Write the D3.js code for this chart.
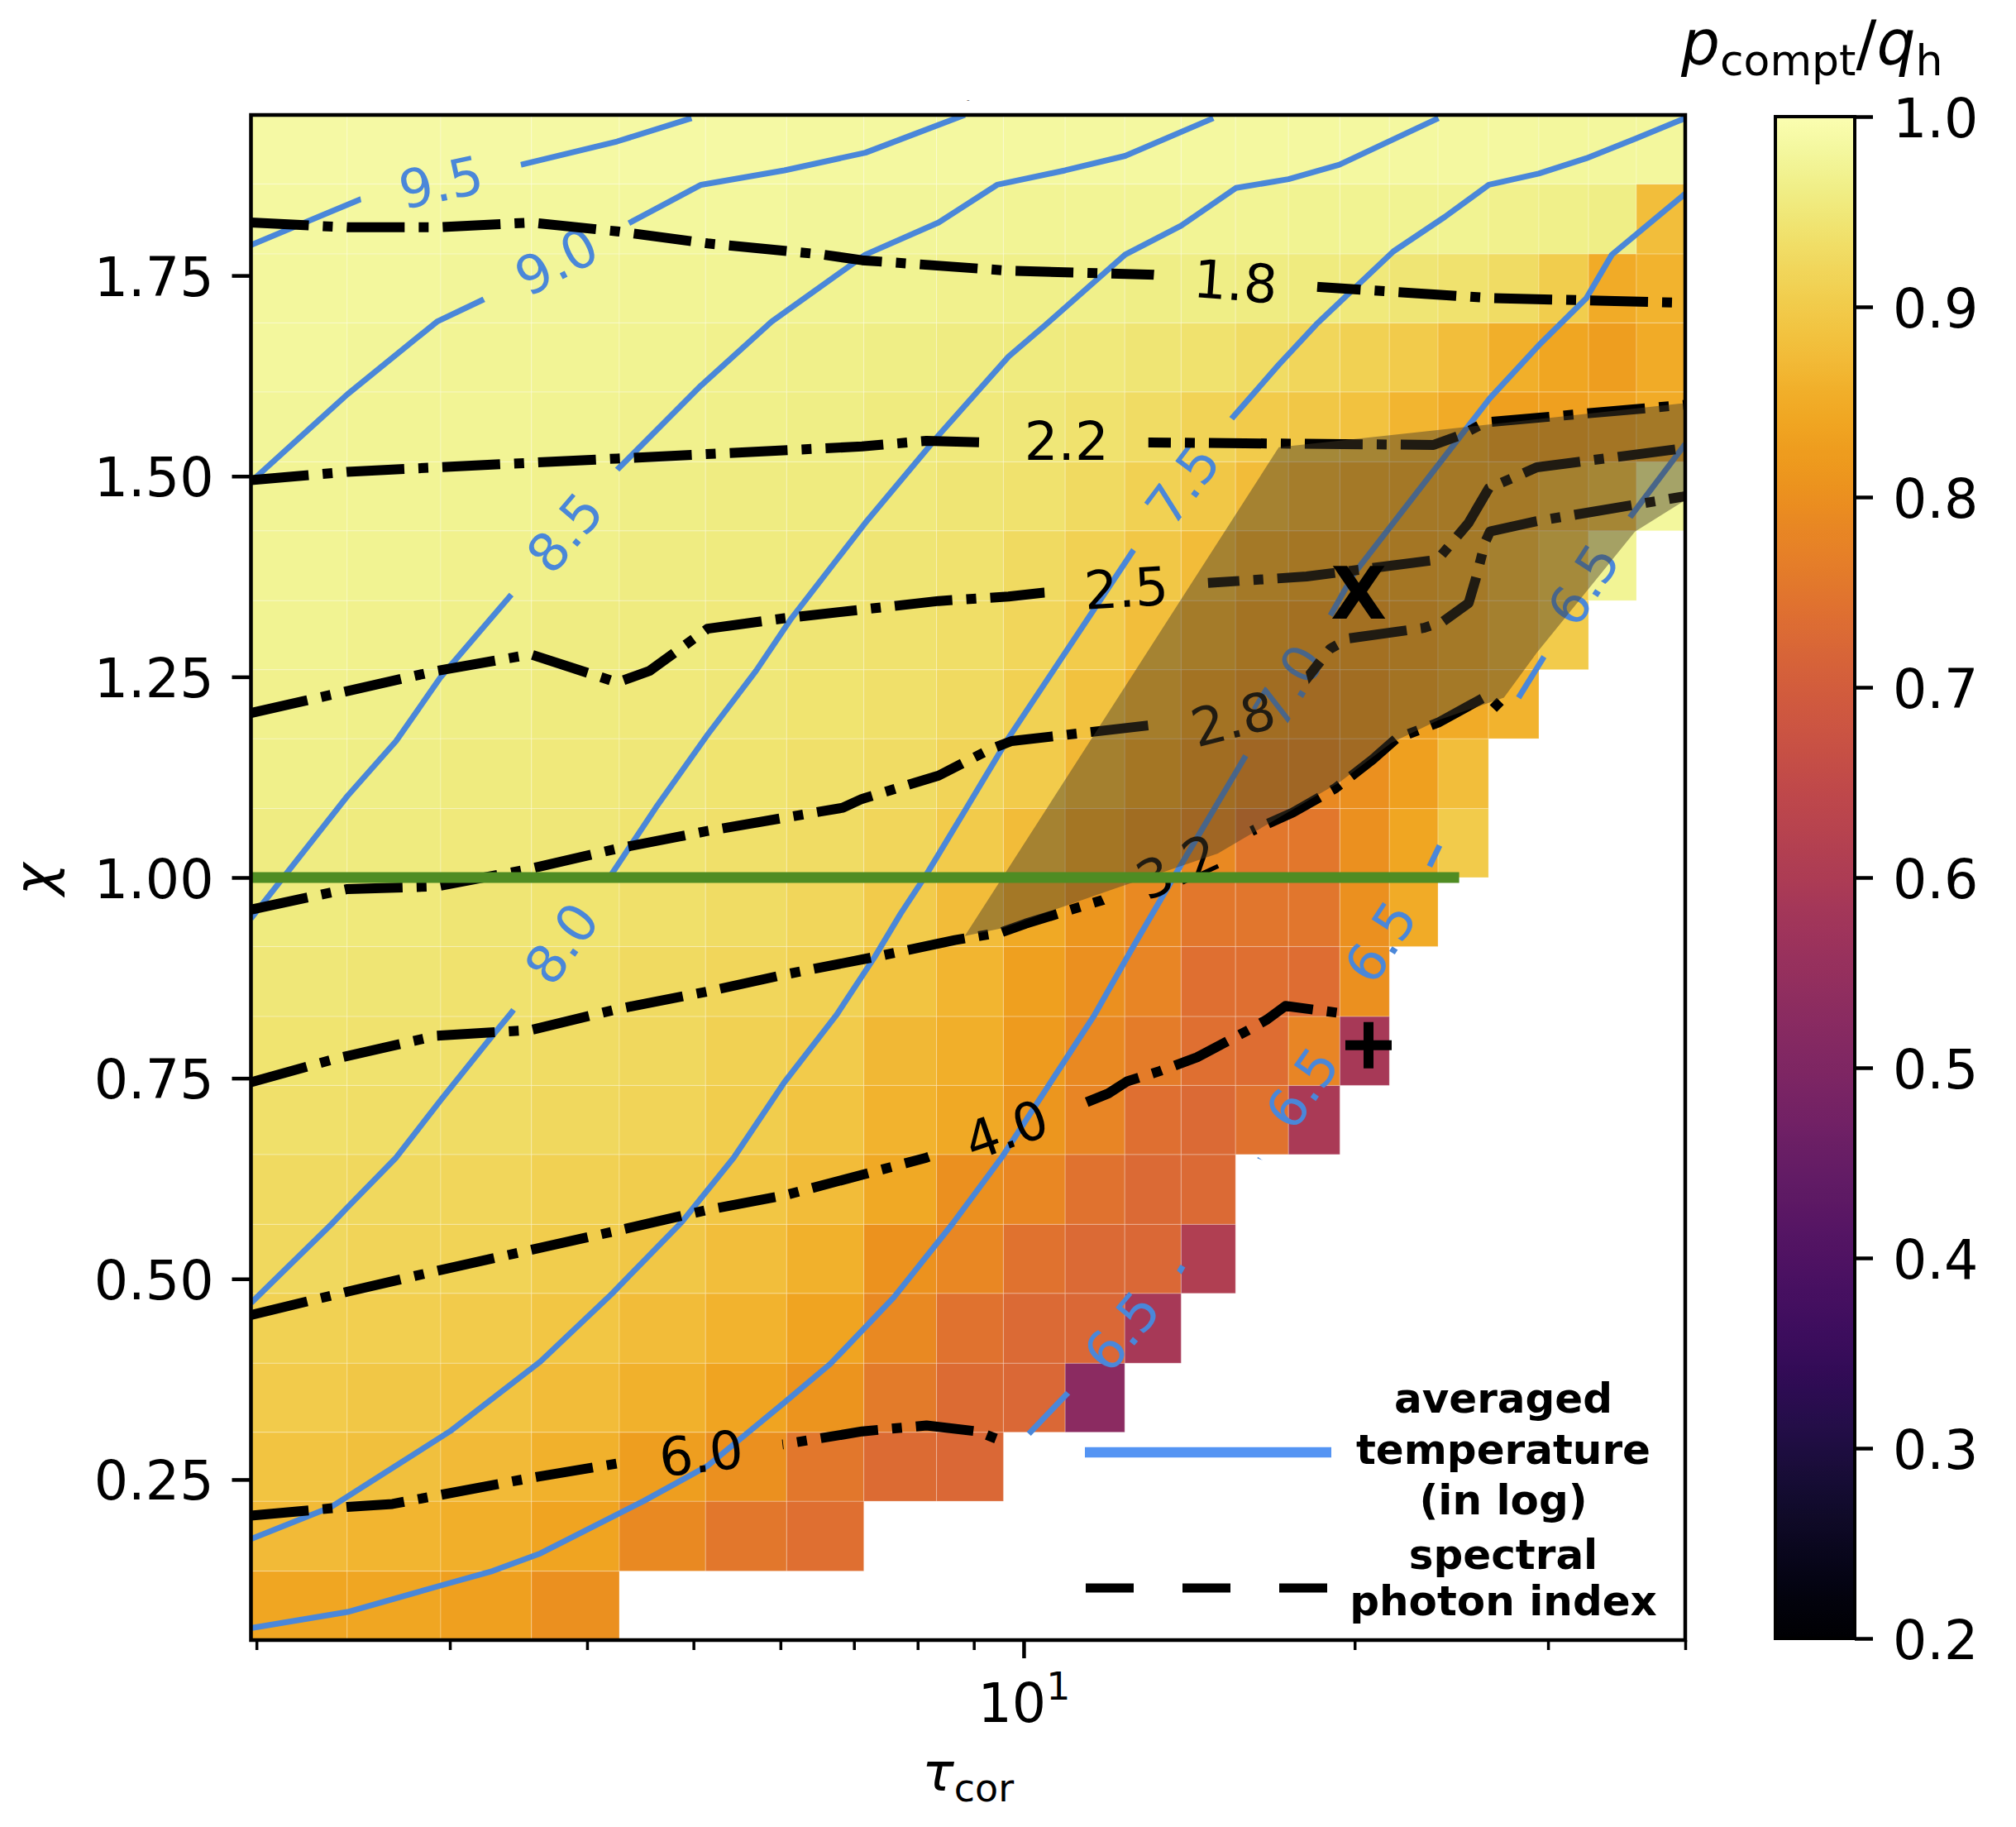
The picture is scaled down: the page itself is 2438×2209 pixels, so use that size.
<!DOCTYPE html>
<html>
<head>
<meta charset="utf-8">
<title>p_compt / q_h map</title>
<script src="https://cdn.jsdelivr.net/npm/d3@7/dist/d3.min.js"></script>
<style>
  html, body { margin: 0; padding: 0; background: #ffffff; }
  svg { display: block; }
</style>
</head>
<body>
<div id="chart"></div>
<script>

// ---------------- data ----------------

// cell edges of the map: tau_cor (log axis) and chi
var tauEdges = [1.977, 2.419, 2.943, 3.560, 4.280, 5.128, 6.079, 7.146, 8.323, 9.576,
                10.90, 12.35, 13.90, 15.58, 17.41, 19.39, 21.51, 23.82, 26.48, 29.43,
                32.66, 36.11, 40.0];
var chiEdges = [0.05, 0.136, 0.223, 0.309, 0.395, 0.482, 0.568, 0.655, 0.741, 0.827,
                0.914, 1.0, 1.086, 1.173, 1.259, 1.345, 1.432, 1.518, 1.605, 1.691,
                1.777, 1.864, 1.95];

// p_compt/q_h, one row per chi bin (lowest chi first); cells past the end of a row are empty
var pRows = [
  [0.84, 0.84, 0.83, 0.80],
  [0.872, 0.865, 0.855, 0.835, 0.79, 0.755, 0.74],
  [0.89, 0.882, 0.872, 0.858, 0.825, 0.80, 0.755, 0.73, 0.725],
  [0.90, 0.895, 0.888, 0.878, 0.858, 0.835, 0.808, 0.76, 0.73, 0.725, 0.53],
  [0.912, 0.908, 0.903, 0.893, 0.878, 0.862, 0.835, 0.79, 0.745, 0.728, 0.722, 0.59],
  [0.922, 0.918, 0.913, 0.905, 0.895, 0.88, 0.858, 0.805, 0.785, 0.745, 0.728, 0.722, 0.61],
  [0.928, 0.924, 0.92, 0.912, 0.905, 0.892, 0.875, 0.845, 0.80, 0.785, 0.745, 0.728, 0.728],
  [0.937, 0.933, 0.93, 0.922, 0.916, 0.906, 0.89, 0.86, 0.845, 0.81, 0.78, 0.74, 0.728, 0.745, 0.595],
  [0.943, 0.94, 0.936, 0.93, 0.922, 0.912, 0.90, 0.87, 0.855, 0.82, 0.79, 0.765, 0.74, 0.735, 0.78, 0.59],
  [0.948, 0.944, 0.94, 0.935, 0.927, 0.92, 0.91, 0.89, 0.865, 0.83, 0.80, 0.78, 0.74, 0.74, 0.735, 0.80],
  [0.954, 0.95, 0.946, 0.942, 0.937, 0.93, 0.92, 0.90, 0.875, 0.845, 0.81, 0.79, 0.755, 0.75, 0.75, 0.80, 0.85],
  [0.959, 0.955, 0.951, 0.947, 0.943, 0.937, 0.931, 0.92, 0.903, 0.875, 0.84, 0.81, 0.79, 0.755, 0.755, 0.80, 0.84, 0.90],
  [0.963, 0.96, 0.956, 0.952, 0.948, 0.943, 0.937, 0.93, 0.918, 0.90, 0.87, 0.84, 0.81, 0.79, 0.79, 0.80, 0.83, 0.88],
  [0.966, 0.963, 0.96, 0.956, 0.952, 0.947, 0.942, 0.935, 0.925, 0.91, 0.885, 0.86, 0.83, 0.81, 0.80, 0.81, 0.83, 0.85, 0.86],
  [0.969, 0.966, 0.963, 0.959, 0.955, 0.95, 0.946, 0.94, 0.932, 0.92, 0.90, 0.88, 0.855, 0.83, 0.82, 0.82, 0.83, 0.85, 0.87, 0.90],
  [0.972, 0.969, 0.966, 0.963, 0.959, 0.955, 0.95, 0.945, 0.938, 0.928, 0.912, 0.895, 0.875, 0.85, 0.84, 0.835, 0.84, 0.85, 0.87, 0.90, 0.975],
  [0.974, 0.972, 0.969, 0.966, 0.962, 0.959, 0.955, 0.95, 0.945, 0.938, 0.925, 0.912, 0.895, 0.875, 0.86, 0.85, 0.845, 0.845, 0.85, 0.87, 0.89, 0.98],
  [0.976, 0.974, 0.972, 0.969, 0.966, 0.963, 0.96, 0.956, 0.952, 0.947, 0.94, 0.93, 0.915, 0.90, 0.895, 0.885, 0.865, 0.85, 0.83, 0.83, 0.835, 0.85],
  [0.979, 0.976, 0.974, 0.972, 0.97, 0.967, 0.965, 0.962, 0.959, 0.956, 0.95, 0.945, 0.94, 0.93, 0.92, 0.91, 0.90, 0.88, 0.855, 0.84, 0.825, 0.85],
  [0.981, 0.979, 0.977, 0.976, 0.974, 0.972, 0.971, 0.969, 0.967, 0.965, 0.963, 0.962, 0.96, 0.958, 0.955, 0.95, 0.945, 0.94, 0.93, 0.905, 0.85, 0.86],
  [0.983, 0.982, 0.981, 0.981, 0.98, 0.979, 0.978, 0.977, 0.976, 0.975, 0.975, 0.974, 0.973, 0.972, 0.971, 0.97, 0.97, 0.969, 0.968, 0.965, 0.96, 0.88],
  [0.986, 0.986, 0.985, 0.985, 0.985, 0.985, 0.984, 0.984, 0.984, 0.984, 0.983, 0.983, 0.983, 0.983, 0.982, 0.982, 0.982, 0.982, 0.982, 0.981, 0.981, 0.98]
];

// averaged temperature contours (log10), points are [tau_cor, chi]
var temp95 = [[1.977,1.788],[2.487,1.845],[2.944,1.8665],[3.484,1.888],[4.26,1.917],[4.98,1.946]];
var temp90 = [[1.977,1.493],[2.42,1.602],[2.92,1.6925],[3.235,1.7215],[3.75,1.768],[4.35,1.814],[5.08,1.863],
              [6.05,1.881],[7.17,1.903],[8.83,1.95]];
var temp85 = [[1.977,0.949],[2.42,1.1015],[2.68,1.17],[2.944,1.25],[3.415,1.353],[3.816,1.43],[4.26,1.508],
              [5.08,1.613],[5.89,1.6925],[7.17,1.776],[8.36,1.816],[9.45,1.863],[10.9,1.881],[12.36,1.899],[14.87,1.946]];
var temp80 = [[1.977,0.47],[2.34,0.568],[2.42,0.589],[2.68,0.651],[2.944,0.723],[3.28,0.803],[3.415,0.832],
              [3.79,0.918],[4.21,1.004],[4.62,1.087],[5.15,1.178],[5.70,1.2575],[6.14,1.323],[7.17,1.442],
              [8.36,1.551],[9.68,1.649],[10.47,1.689],[12.36,1.776],[13.9,1.812],[15.59,1.859],[17.41,1.87],
              [19.37,1.888],[23.84,1.946]];
var temp75 = [[1.977,0.176],[2.34,0.216],[3.0,0.31],[3.627,0.397],[4.21,0.481],[4.88,0.571],[5.44,0.651],
              [6.05,0.745],[6.75,0.829],[7.31,0.901],[7.72,0.955],[8.15,1.004],[8.83,1.083],[9.68,1.174],
              [12.58,1.408],[13.94,1.49],[15.46,1.572],[17.06,1.639],[18.45,1.689],[21.69,1.78],[24.16,1.823],
              [26.5,1.863],[29.42,1.877],[32.5,1.896],[36.1,1.921],[40,1.946]];
var temp70 = [[1.977,0.065],[2.42,0.085],[2.944,0.118],[3.28,0.136],[3.627,0.158],[4.5,0.223],[5.15,0.267],
              [6.05,0.346],[6.66,0.394],[7.61,0.477],[8.6,0.568],[9.55,0.652],[10.54,0.742],[11.57,0.827],
              [12.5,0.908],[13.68,1.0],[15.92,1.152],[17.4,1.239],[19.0,1.326],[19.96,1.378],[26.55,1.597],
              [29.42,1.663],[32.5,1.7215],[34.3,1.776],[40,1.852]];
// the 6.5 level only shows in short pieces along the empty corner
var temp65Pieces = [
  [[10.1,0.307],[11.0,0.36]],
  [[13.8,0.505],[13.95,0.516]],
  [[16.4,0.649],[16.5,0.659]],
  [[23.4,1.014],[23.9,1.04]],
  [[28.2,1.224],[29.9,1.28]],
  [[35.5,1.446],[40,1.54]]
];

// spectral photon index contours, points are [tau_cor, chi]
var index18 = [[1.977,1.816],[2.42,1.810],[2.92,1.810],[3.555,1.816],[4.26,1.805],[5.15,1.790],[6.56,1.776],
               [7.12,1.769],[9.68,1.756],[13.17,1.751],[15.58,1.743],[18.45,1.736],[26.5,1.722],[40,1.716]];
var index22 = [[1.977,1.495],[2.42,1.5055],[4.26,1.522],[7.12,1.537],[8.15,1.544],[9.2,1.542],[10.93,1.544],
               [13.0,1.542],[23.6,1.539],[25.03,1.5515],[26.3,1.567],[40,1.589]];
var index25 = [[1.977,1.205],[2.92,1.2575],[3.555,1.278],[4.26,1.243],[4.56,1.2575],[5.15,1.31],[6.05,1.323],
               [8.36,1.3445],[9.68,1.35],[10.43,1.355],[12.39,1.361],[14.72,1.367],[18.08,1.375],[23.8,1.396],
               [25.4,1.442],[26.5,1.485],[29.3,1.511],[40,1.535]];
var index28 = [[1.977,0.96],[2.42,0.9856],[2.92,0.989],[3.555,1.011],[4.26,1.036],[5.15,1.058],[6.84,1.087],
               [7.12,1.098],[8.36,1.127],[9.32,1.16],[9.74,1.17],[13.08,1.19],[15.5,1.198],[17.83,1.237],
               [19.0,1.285],[19.77,1.298],[23.13,1.311],[24.07,1.319],[25.4,1.342],[25.78,1.372],[26.3,1.418],
               [26.56,1.431],[29.3,1.444],[40,1.475]];
var index32 = [[1.977,0.745],[2.356,0.774],[2.92,0.803],[3.555,0.81],[4.26,0.836],[5.15,0.858],[6.05,0.879],
               [7.31,0.901],[8.65,0.922],[9.55,0.932],[10.03,0.9425],[11.86,0.973],[13.8,1.014],[16.24,1.06],
               [17.57,1.081],[19.2,1.111],[20.77,1.147],[21.82,1.173],[23.83,1.193],[26.42,1.2265],[27.48,1.2035]];
var index40 = [[1.977,0.455],[2.42,0.484],[2.92,0.51],[3.555,0.536],[4.26,0.56],[5.15,0.586],[6.05,0.604],
               [8.15,0.651],[9.63,0.686],[11.4,0.72],[11.93,0.731],[12.41,0.746],[13.3,0.759],[14.37,0.776],
               [16.01,0.81],[16.64,0.823],[17.3,0.84],[19.43,0.831]];
var index60 = [[1.977,0.205],[2.42,0.216],[2.66,0.2196],[3.555,0.252],[4.26,0.27],[5.08,0.283],[6.05,0.294],
               [7.12,0.31],[8.15,0.3174],[9.07,0.31],[9.51,0.299]];

// inline label positions [tau_cor, chi] (6.5 labels carry their own angle)
var tempLabelPos = {
  "9.5": [[2.944, 1.8665]], "9.0": [[3.75, 1.768]], "8.5": [[3.816, 1.43]], "8.0": [[3.79, 0.918]],
  "7.5": [[13.94, 1.49]], "7.0": [[17.4, 1.239]],
  "6.5": [[12.27, 0.435, -50], [17.9, 0.738, -55], [21.1, 0.92, -57], [32.3, 1.365, -57]]
};
var indexLabelPos = {
  "1.8": [[15.58, 1.743]], "2.2": [[10.93, 1.544]], "2.5": [[12.39, 1.361]], "2.8": [[15.5, 1.198]],
  "3.2": [[13.8, 1.014]], "4.0": [[9.63, 0.686]], "6.0": [[5.08, 0.283]]
};

// shaded region, the chi = 1 line and the two marked models
var shadeRegion = [[8.83,0.927],[17.06,1.536],[40,1.591],[40,1.47],[36.0,1.431],[29.3,1.28],[27.35,1.224],
                   [23.83,1.196],[21.61,1.168],[19.39,1.119],[15.01,1.03],[12.09,0.986],[9.55,0.937]];
var chiOneLine = [[1.977, 1.0], [24.9, 1.0]];
var markCross = [20.17, 1.355];
var markPlus = [20.59, 0.791];

// ticks
var xMinorTicks = [2, 3, 4, 5, 6, 7, 8, 9, 20, 30, 40];
var xMajorTicks = [10];
var yTicks = [0.25, 0.50, 0.75, 1.00, 1.25, 1.50, 1.75];
var cbTicks = [0.2, 0.3, 0.4, 0.5, 0.6, 0.7, 0.8, 0.9, 1.0];

var legendTemp = ["averaged", "temperature", "(in log)"];
var legendIndex = ["spectral", "photon index"];

// ---------------- chart ----------------

var W = 2438, H = 2209;
var FONT = "'DejaVu Sans', 'Liberation Sans', sans-serif";
var BLUE = "#4a87d9";

var svg = d3.select("#chart").append("svg")
    .attr("width", W)
    .attr("height", H)
    .style("font-family", FONT);
var defs = svg.append("defs");

// the printed colours are a little washed out compared with raw inferno
var mute = defs.append("filter")
    .attr("id", "mute")
    .attr("color-interpolation-filters", "sRGB");
mute.append("feColorMatrix").attr("type", "saturate").attr("values", 0.85);

// axes box
var box = {left: 303.5, right: 2038, top: 139, bottom: 1983};

var x = d3.scaleLog()
    .domain([tauEdges[0], tauEdges[tauEdges.length - 1]])
    .range([box.left, box.right]);
var y = d3.scaleLinear()
    .domain([chiEdges[0], chiEdges[chiEdges.length - 1]])
    .range([box.bottom, box.top]);
var color = d3.scaleSequential(d3.interpolateInferno).domain([0.2, 1.0]);

var line = d3.line()
    .x(function(d){ return x(d[0]); })
    .y(function(d){ return y(d[1]); });

defs.append("clipPath").attr("id", "plot-clip")
  .append("rect")
    .attr("x", box.left).attr("y", box.top)
    .attr("width", box.right - box.left).attr("height", box.bottom - box.top);

var plot = svg.append("g").attr("clip-path", "url(#plot-clip)");

// heatmap cells
var cells = [];
pRows.forEach(function(row, i){
  row.forEach(function(v, j){
    cells.push({i: i, j: j, v: v});
  });
});

plot.append("g")
    .attr("filter", "url(#mute)")
    .selectAll("rect")
    .data(cells)
    .enter()
    .append("rect")
    .attr("x", function(d){ return x(tauEdges[d.j]); })
    .attr("y", function(d){ return y(chiEdges[d.i + 1]); })
    .attr("width", function(d){ return x(tauEdges[d.j + 1]) - x(tauEdges[d.j]); })
    .attr("height", function(d){ return y(chiEdges[d.i]) - y(chiEdges[d.i + 1]); })
    .attr("fill", function(d){ return color(d.v); })
    .attr("stroke", "#ffffff")
    .attr("stroke-opacity", 0.22)
    .attr("stroke-width", 1.2);

// angle of a label = direction of the contour around it
function labelAngle(points, lp){
  var pts = points.map(function(p){ return [x(p[0]), y(p[1])]; });
  var px = x(lp[0]), py = y(lp[1]);
  var dist = function(p){ return Math.hypot(p[0] - px, p[1] - py); };
  var k0 = d3.minIndex(pts, dist);
  var a = k0, b = k0;
  while (a > 0 && dist(pts[a]) < 60) a--;
  while (b < pts.length - 1 && dist(pts[b]) < 60) b++;
  var ang = Math.atan2(pts[b][1] - pts[a][1], pts[b][0] - pts[a][0]) * 180 / Math.PI;
  if (ang > 90) ang -= 180;
  if (ang < -90) ang += 180;
  return ang;
}

// draws a set of labelled contours, the lines are cut where the labels sit
function drawContours(list, opts){
  var layer = plot.append("g");
  list.forEach(function(c, ci){
    var labels = c.labels.map(function(l){
      return {
        text: c.level,
        px: x(l[0]),
        py: y(l[1]),
        angle: l.length > 2 ? l[2] : labelAngle(c.points, l)
      };
    });

    var maskId = opts.prefix + ci;
    var mask = defs.append("mask")
        .attr("id", maskId)
        .attr("maskUnits", "userSpaceOnUse")
        .attr("x", 0).attr("y", 0).attr("width", W).attr("height", H);
    mask.append("rect").attr("width", W).attr("height", H).attr("fill", "#fff");
    mask.selectAll("rect.hole")
        .data(labels)
        .enter()
        .append("rect")
        .attr("class", "hole")
        .attr("x", -99).attr("y", -46).attr("width", 198).attr("height", 92)
        .attr("fill", "#000")
        .attr("transform", function(d){ return "translate(" + d.px + "," + d.py + ") rotate(" + d.angle + ")"; });

    layer.append("g")
        .attr("mask", "url(#" + maskId + ")")
        .selectAll("path")
        .data(c.pieces || [c.points])
        .enter()
        .append("path")
        .attr("d", line)
        .attr("fill", "none")
        .attr("stroke", opts.stroke)
        .attr("stroke-width", opts.width)
        .attr("stroke-linejoin", "round")
        .attr("stroke-dasharray", opts.dash);

    layer.selectAll(null)
        .data(labels)
        .enter()
        .append("text")
        .attr("transform", function(d){ return "translate(" + d.px + "," + d.py + ") rotate(" + d.angle + ")"; })
        .attr("text-anchor", "middle")
        .attr("dy", "0.36em")
        .attr("font-size", 64)
        .attr("fill", opts.stroke)
        .text(function(d){ return d.text; });
  });
}

var tempContours = [
  {level: "9.5", points: temp95, labels: tempLabelPos["9.5"]},
  {level: "9.0", points: temp90, labels: tempLabelPos["9.0"]},
  {level: "8.5", points: temp85, labels: tempLabelPos["8.5"]},
  {level: "8.0", points: temp80, labels: tempLabelPos["8.0"]},
  {level: "7.5", points: temp75, labels: tempLabelPos["7.5"]},
  {level: "7.0", points: temp70, labels: tempLabelPos["7.0"]},
  {level: "6.5", points: [], pieces: temp65Pieces, labels: tempLabelPos["6.5"]}
];
var indexContours = [
  {level: "1.8", points: index18, labels: indexLabelPos["1.8"]},
  {level: "2.2", points: index22, labels: indexLabelPos["2.2"]},
  {level: "2.5", points: index25, labels: indexLabelPos["2.5"]},
  {level: "2.8", points: index28, labels: indexLabelPos["2.8"]},
  {level: "3.2", points: index32, labels: indexLabelPos["3.2"]},
  {level: "4.0", points: index40, labels: indexLabelPos["4.0"]},
  {level: "6.0", points: index60, labels: indexLabelPos["6.0"]}
];

drawContours(tempContours, {prefix: "tmask", stroke: BLUE, width: 7, dash: null});
drawContours(indexContours, {prefix: "imask", stroke: "#000000", width: 12, dash: "70 17 12 17"});

// shaded region sits over the contours
plot.append("path")
    .datum(shadeRegion)
    .attr("d", function(d){ return line(d) + "Z"; })
    .attr("fill", "rgb(70,60,40)")
    .attr("fill-opacity", 0.45)
    .attr("stroke", "none");

// chi = 1 line
plot.append("path")
    .datum(chiOneLine)
    .attr("d", line)
    .attr("stroke", "#4f8c23")
    .attr("stroke-width", 13)
    .attr("fill", "none");

// marked models
plot.append("text")
    .attr("x", x(markCross[0]))
    .attr("y", y(markCross[1]))
    .attr("dy", "0.36em")
    .attr("text-anchor", "middle")
    .attr("font-size", 88)
    .attr("font-weight", "bold")
    .text("X");

var plusArm = 28;
plot.append("path")
    .attr("d", "M" + (x(markPlus[0]) - plusArm) + "," + y(markPlus[1]) + "h" + (2 * plusArm) +
               "M" + x(markPlus[0]) + "," + (y(markPlus[1]) - plusArm) + "v" + (2 * plusArm))
    .attr("stroke", "#000")
    .attr("stroke-width", 12)
    .attr("fill", "none");

// legend (no frame)
var legend = svg.append("g").attr("font-weight", "bold").attr("font-size", 50).attr("text-anchor", "middle");
legend.append("line")
    .attr("x1", 1312).attr("x2", 1610).attr("y1", 1756).attr("y2", 1756)
    .attr("stroke", "#5494f3").attr("stroke-width", 12.5);
legend.append("line")
    .attr("x1", 1313).attr("x2", 1605).attr("y1", 1920).attr("y2", 1920)
    .attr("stroke", "#000").attr("stroke-width", 11).attr("stroke-dasharray", "58 59");
legend.selectAll("text.temp")
    .data(legendTemp)
    .enter()
    .append("text")
    .attr("class", "temp")
    .attr("x", 1818)
    .attr("y", function(d, i){ return 1708 + i * 61.5; })
    .text(function(d){ return d; });
legend.selectAll("text.index")
    .data(legendIndex)
    .enter()
    .append("text")
    .attr("class", "index")
    .attr("x", 1818)
    .attr("y", function(d, i){ return 1897 + i * 56; })
    .text(function(d){ return d; });

// ---------------- axes ----------------

// y axis
var yAxis = svg.append("g")
    .attr("transform", "translate(" + box.left + ",0)")
    .call(d3.axisLeft(y).tickValues(yTicks).tickFormat(d3.format(".2f")).tickSize(23).tickPadding(22));
yAxis.select(".domain").remove();
yAxis.attr("font-size", 65).attr("font-family", FONT);
yAxis.selectAll(".tick line").attr("stroke-width", 4.5);
yAxis.selectAll(".tick text").attr("dy", "0.37em");

// x axis: minor ticks, then the labelled decade
var xAxis = svg.append("g")
    .attr("transform", "translate(0," + box.bottom + ")")
    .call(d3.axisBottom(x).tickValues(xMinorTicks).tickFormat("").tickSize(12));
xAxis.select(".domain").remove();
xAxis.selectAll(".tick line").attr("stroke-width", 3.5);

var xMajor = svg.append("g").attr("transform", "translate(0," + box.bottom + ")");
xMajor.selectAll("line")
    .data(xMajorTicks)
    .enter()
    .append("line")
    .attr("x1", function(d){ return x(d); })
    .attr("x2", function(d){ return x(d); })
    .attr("y1", 0).attr("y2", 22)
    .attr("stroke", "#000").attr("stroke-width", 4.5);
var majorLabel = xMajor.selectAll("text")
    .data(xMajorTicks)
    .enter()
    .append("text")
    .attr("x", function(d){ return x(d); })
    .attr("y", 99)
    .attr("text-anchor", "middle")
    .attr("font-size", 65);
majorLabel.append("tspan").text("10");
majorLabel.append("tspan").attr("font-size", 46).attr("dy", -27)
    .text(function(d){ return String(Math.round(Math.log10(d))); });

// frame
svg.append("rect")
    .attr("x", box.left).attr("y", box.top)
    .attr("width", box.right - box.left).attr("height", box.bottom - box.top)
    .attr("fill", "none").attr("stroke", "#000").attr("stroke-width", 4.5);

// axis labels
var xLabel = svg.append("text")
    .attr("x", (box.left + box.right) / 2)
    .attr("y", 2165)
    .attr("text-anchor", "middle")
    .attr("font-size", 64);
xLabel.append("tspan").attr("font-style", "italic").text("τ");
xLabel.append("tspan").attr("font-size", 46).attr("dy", 13).text("cor");

svg.append("text")
    .attr("transform", "translate(51,1063) rotate(-90)")
    .attr("text-anchor", "middle")
    .attr("dy", "0.2em")
    .attr("font-size", 66)
    .attr("font-style", "italic")
    .text("χ");

// tiny axes title mark
svg.append("text")
    .attr("x", (box.left + box.right) / 2).attr("y", 124)
    .attr("text-anchor", "middle").attr("font-size", 10).attr("fill", "#777")
    .text("-");

// ---------------- colorbar ----------------

var cb = {left: 2147, right: 2243, top: 141, bottom: 1981};
var cbScale = d3.scaleLinear().domain([0.2, 1.0]).range([cb.bottom, cb.top]);

var grad = defs.append("linearGradient")
    .attr("id", "cb-grad")
    .attr("x1", 0).attr("y1", 1).attr("x2", 0).attr("y2", 0);
grad.selectAll("stop")
    .data(d3.range(0, 1.0001, 0.02))
    .enter()
    .append("stop")
    .attr("offset", function(t){ return t; })
    .attr("stop-color", function(t){ return d3.interpolateInferno(t); });

svg.append("rect")
    .attr("x", cb.left).attr("y", cb.top)
    .attr("width", cb.right - cb.left).attr("height", cb.bottom - cb.top)
    .attr("fill", "url(#cb-grad)")
    .attr("filter", "url(#mute)");
svg.append("rect")
    .attr("x", cb.left).attr("y", cb.top)
    .attr("width", cb.right - cb.left).attr("height", cb.bottom - cb.top)
    .attr("fill", "none")
    .attr("stroke", "#000").attr("stroke-width", 4);

var cbAxis = svg.append("g")
    .attr("transform", "translate(" + cb.right + ",0)")
    .call(d3.axisRight(cbScale).tickValues(cbTicks).tickFormat(d3.format(".1f")).tickSize(22).tickPadding(24));
cbAxis.select(".domain").remove();
cbAxis.attr("font-size", 65).attr("font-family", FONT);
cbAxis.selectAll(".tick line").attr("stroke-width", 4.5);
cbAxis.selectAll(".tick text").attr("dy", "0.37em");

// colorbar title p_compt / q_h
var cbTitle = svg.append("text")
    .attr("x", 2033)
    .attr("y", 78)
    .attr("font-size", 74);
cbTitle.append("tspan").attr("font-style", "italic").text("p");
cbTitle.append("tspan").attr("font-size", 52).attr("dy", 13).text("compt");
cbTitle.append("tspan").attr("dy", -13).text("/");
cbTitle.append("tspan").attr("font-style", "italic").text("q");
cbTitle.append("tspan").attr("font-size", 52).attr("dy", 13).text("h");

</script>
</body>
</html>
